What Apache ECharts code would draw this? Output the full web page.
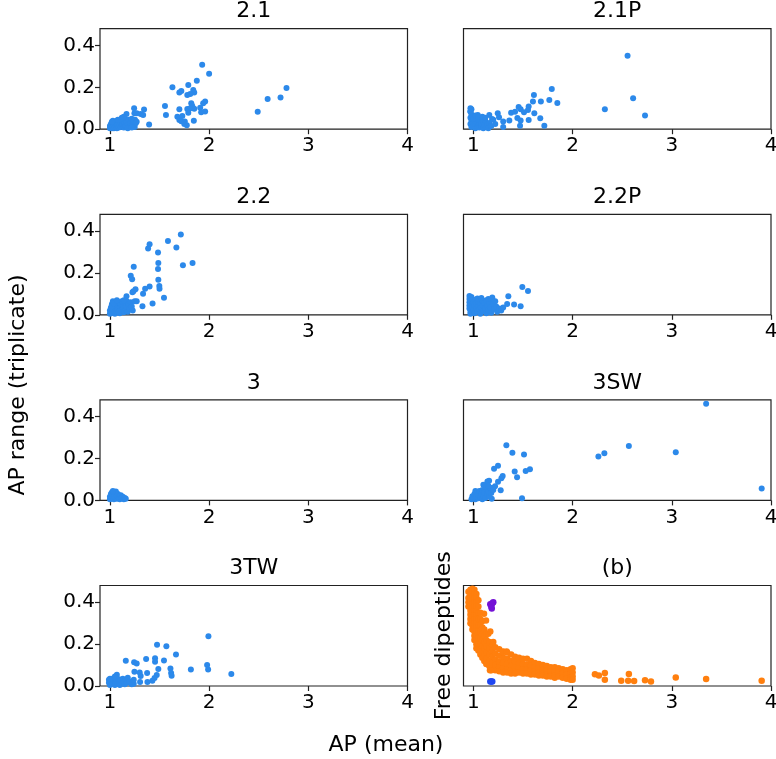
<!DOCTYPE html>
<html>
<head>
<meta charset="utf-8">
<script src="https://cdn.jsdelivr.net/npm/echarts@6/dist/echarts.min.js"></script>
<style>
html, body { margin: 0; padding: 0; background: #fff; }
#main { width: 776px; height: 759px; }
</style>
</head>
<body>
<div id="main"></div>
<script>
// panel titles, ticks
var panelNames = ['2.1', '2.1P', '2.2', '2.2P', '3', '3SW', '3TW', '(b)'];
var xTicks = [1, 2, 3, 4];
var yTicks = [0, 0.2, 0.4];

// [AP mean, AP range]
var p21 = [
  [1.93,0.308],[2.0,0.265],[1.63,0.2],[1.79,0.211],[1.876,0.232],[1.70,0.175],[1.72,0.183],[1.84,0.187],
  [1.85,0.175],[1.81,0.168],[1.78,0.163],[1.96,0.132],[1.94,0.124],[1.82,0.124],[1.83,0.111],[1.555,0.111],
  [1.70,0.095],[1.78,0.097],[1.81,0.1],[1.85,0.098],[1.91,0.103],[1.79,0.079],[1.92,0.081],[1.96,0.084],
  [1.565,0.068],[1.68,0.06],[1.73,0.063],[1.70,0.044],[1.72,0.038],[1.755,0.037],[1.75,0.025],[1.775,0.019],
  [1.846,0.04],[2.49,0.083],[2.59,0.144],[2.72,0.151],[2.78,0.197],[1.244,0.1],[1.344,0.094],[1.31,0.073],
  [1.247,0.076],[1.335,0.068],[1.395,0.022],[1.167,0.073],[1.27,0.076],[1.253,0.045],
  [1.00,0.005],[1.00,0.015],[1.01,0.01],[1.01,0.025],[1.02,0.005],[1.02,0.02],[1.03,0.012],[1.03,0.03],
  [1.04,0.005],[1.04,0.02],[1.05,0.01],[1.05,0.035],[1.06,0.018],[1.06,0.028],[1.07,0.005],[1.07,0.04],
  [1.08,0.015],[1.08,0.025],[1.09,0.008],[1.09,0.035],[1.10,0.02],[1.10,0.045],[1.11,0.01],[1.11,0.03],
  [1.12,0.055],[1.12,0.018],[1.13,0.025],[1.13,0.04],[1.14,0.008],[1.15,0.03],[1.15,0.05],[1.16,0.015],
  [1.17,0.035],[1.18,0.022],[1.19,0.045],[1.20,0.012],[1.21,0.03],[1.22,0.05],[1.23,0.02],[1.24,0.04],
  [1.25,0.01],[1.26,0.028],[1.27,0.035],[1.03,0.04],[1.02,0.035],[1.08,0.045],[1.14,0.06],[1.18,0.005],[1.22,0.008]
];
var p21P = [
  [2.554,0.351],[2.61,0.148],[2.325,0.095],[2.73,0.065],[1.79,0.192],[1.61,0.163],[1.765,0.14],[1.68,0.132],
  [1.60,0.132],[1.846,0.125],[1.456,0.106],[1.476,0.095],[1.557,0.108],[1.55,0.092],[1.51,0.081],[1.614,0.076],
  [1.38,0.078],[1.42,0.083],[1.674,0.052],[1.557,0.044],[1.476,0.041],[1.443,0.054],[1.362,0.041],[1.715,0.016],
  [1.47,0.017],[1.245,0.076],[1.258,0.057],[1.16,0.068],[1.188,0.049],[1.30,0.037],[1.30,0.01],[0.98,0.095],
  [0.97,0.084],[1.044,0.068],
  [0.97,0.10],[0.97,0.085],[0.98,0.07],[0.97,0.055],[0.98,0.04],[0.97,0.025],[0.98,0.01],[0.99,0.06],
  [1.0,0.03],[1.0,0.015],[1.01,0.045],[1.02,0.005],[1.02,0.025],[1.03,0.035],[1.04,0.012],[1.04,0.05],
  [1.05,0.02],[1.06,0.03],[1.06,0.008],[1.07,0.042],[1.08,0.015],[1.08,0.028],[1.09,0.05],[1.10,0.005],
  [1.10,0.035],[1.11,0.02],[1.12,0.04],[1.13,0.01],[1.13,0.03],[1.14,0.022],[1.15,0.005],[1.16,0.03],
  [1.18,0.015],[1.2,0.045],[1.22,0.025],[1.0,0.05],[1.02,0.065],[1.05,0.058],[1.09,0.06],[1.12,0.055]
];
var p22 = [
  [1.715,0.383],[1.585,0.352],[1.40,0.337],[1.385,0.317],[1.67,0.321],[1.485,0.298],[1.488,0.248],[1.833,0.248],
  [1.736,0.237],[1.24,0.229],[1.485,0.219],[1.21,0.187],[1.224,0.17],[1.488,0.167],[1.498,0.137],[1.50,0.124],
  [1.40,0.135],[1.355,0.125],[1.258,0.122],[1.237,0.113],[1.227,0.108],[1.334,0.1],[1.545,0.081],[1.27,0.065],
  [1.167,0.089],[1.43,0.054],[1.328,0.041],
  [1.0,0.005],[1.0,0.02],[1.01,0.035],[1.02,0.01],[1.02,0.05],[1.03,0.025],[1.03,0.065],[1.04,0.04],
  [1.05,0.005],[1.05,0.018],[1.06,0.03],[1.06,0.055],[1.07,0.012],[1.08,0.042],[1.08,0.025],[1.09,0.06],
  [1.10,0.008],[1.10,0.035],[1.11,0.05],[1.11,0.02],[1.12,0.065],[1.13,0.03],[1.13,0.045],[1.14,0.012],
  [1.15,0.055],[1.16,0.025],[1.16,0.04],[1.17,0.065],[1.18,0.015],[1.19,0.05],[1.2,0.03],[1.21,0.06],
  [1.22,0.04],[1.23,0.02],[1.25,0.065],[1.02,0.04],[1.04,0.055],[1.07,0.07],[1.14,0.07],[1.09,0.015]
];
var p22P = [
  [1.493,0.133],[1.55,0.114],[1.352,0.089],[1.34,0.051],[1.41,0.049],[1.476,0.041],[1.19,0.083],
  [0.96,0.09],[0.96,0.075],[0.96,0.06],[0.96,0.045],[0.96,0.03],[0.97,0.015],[0.97,0.005],[0.98,0.085],
  [0.98,0.068],[0.99,0.05],[0.99,0.035],[1.0,0.02],[1.0,0.06],[1.01,0.008],[1.01,0.045],[1.02,0.072],
  [1.03,0.03],[1.03,0.055],[1.04,0.015],[1.05,0.04],[1.05,0.065],[1.06,0.025],[1.07,0.005],[1.07,0.05],
  [1.08,0.035],[1.09,0.068],[1.1,0.018],[1.1,0.045],[1.11,0.058],[1.12,0.03],[1.13,0.008],[1.13,0.07],
  [1.14,0.045],[1.15,0.022],[1.16,0.06],[1.17,0.035],[1.18,0.01],[1.19,0.075],[1.2,0.05],[1.21,0.028],
  [1.22,0.065],[1.23,0.04],[1.24,0.015],[1.26,0.03],[1.28,0.02],[1.3,0.035],[1.04,0.078],[1.08,0.08],[1.15,0.075]
];
var p3 = [
  [1.0,0.005],[1.0,0.018],[1.01,0.03],[1.02,0.01],[1.02,0.038],[1.03,0.022],[1.04,0.04],[1.04,0.005],
  [1.05,0.028],[1.05,0.015],[1.06,0.035],[1.07,0.008],[1.07,0.022],[1.08,0.03],[1.09,0.012],[1.1,0.02],
  [1.1,0.005],[1.11,0.025],[1.12,0.01],[1.13,0.018],[1.14,0.005],[1.15,0.012],[1.16,0.008],[1.06,0.042],[1.03,0.045]
];
var p3SW = [
  [3.346,0.462],[2.567,0.26],[3.04,0.23],[2.32,0.225],[2.26,0.21],[3.906,0.057],[1.332,0.263],[1.393,0.227],
  [1.51,0.219],[1.248,0.165],[1.208,0.151],[1.57,0.149],[1.527,0.141],[1.416,0.138],[1.44,0.111],[1.295,0.116],
  [1.282,0.106],[1.248,0.089],[1.158,0.094],[1.141,0.09],[1.218,0.068],[1.275,0.048],[1.188,0.059],[1.49,0.01],
  [1.185,0.008],
  [0.98,0.005],[0.99,0.02],[1.0,0.01],[1.01,0.03],[1.02,0.045],[1.02,0.005],[1.03,0.018],[1.04,0.035],
  [1.05,0.01],[1.05,0.025],[1.06,0.045],[1.07,0.015],[1.08,0.03],[1.09,0.005],[1.09,0.05],[1.1,0.022],
  [1.11,0.038],[1.12,0.012],[1.13,0.055],[1.14,0.028],[1.15,0.042],[1.16,0.018],[1.17,0.06],[1.18,0.035],
  [1.2,0.05],[1.12,0.065],[1.15,0.07],[1.1,0.075]
];
var p3TW = [
  [1.993,0.238],[1.475,0.197],[1.569,0.19],[1.666,0.151],[1.16,0.121],[1.244,0.113],[1.27,0.108],[1.365,0.129],
  [1.455,0.132],[1.455,0.116],[1.545,0.122],[1.98,0.1],[1.99,0.079],[1.816,0.079],[2.224,0.057],[1.488,0.081],
  [1.61,0.084],[1.617,0.062],[1.622,0.049],[1.247,0.068],[1.3,0.065],[1.31,0.048],[1.375,0.062],[1.472,0.052],
  [1.45,0.038],[1.428,0.025],[1.378,0.019],[1.304,0.019],[1.24,0.011],[1.167,0.029],[1.07,0.054],
  [0.99,0.03],[0.99,0.015],[1.0,0.005],[1.01,0.025],[1.02,0.035],[1.02,0.01],[1.03,0.02],[1.04,0.03],
  [1.05,0.005],[1.06,0.015],[1.06,0.038],[1.07,0.025],[1.08,0.01],[1.09,0.032],[1.1,0.018],[1.1,0.005],
  [1.11,0.028],[1.12,0.012],[1.13,0.035],[1.14,0.02],[1.15,0.008],[1.16,0.03],[1.17,0.015],[1.18,0.04],
  [1.2,0.022],[1.22,0.008],[1.24,0.03],[1.05,0.045],[1.0,0.035]
];

// panel (b): free dipeptides
var bOrange = [
  [0.95,0.45],[0.95,0.42],[0.95,0.40],[0.95,0.38],
  [0.97,0.46],[0.97,0.44],[0.97,0.42],[0.97,0.40],[0.97,0.38],[0.97,0.36],[0.97,0.34],[0.97,0.32],[0.97,0.30],
  [0.99,0.465],[0.99,0.45],[0.99,0.43],[0.99,0.41],[0.99,0.39],[0.99,0.37],[0.99,0.35],[0.99,0.33],[0.99,0.31],[0.99,0.29],[0.99,0.27],
  [1.01,0.46],[1.01,0.44],[1.01,0.42],[1.01,0.40],[1.01,0.38],[1.01,0.36],[1.01,0.34],[1.01,0.32],[1.01,0.30],[1.01,0.28],[1.01,0.26],[1.01,0.24],[1.01,0.22],
  [1.03,0.44],[1.03,0.42],[1.03,0.40],[1.03,0.38],[1.03,0.36],[1.03,0.34],[1.03,0.32],[1.03,0.30],[1.03,0.28],[1.03,0.26],[1.03,0.24],[1.03,0.22],[1.03,0.20],[1.03,0.18],
  [1.05,0.41],[1.05,0.38],[1.05,0.35],[1.05,0.32],[1.05,0.29],[1.05,0.26],[1.05,0.23],[1.05,0.20],[1.05,0.17],
  [1.07,0.35],[1.07,0.32],[1.07,0.29],[1.07,0.26],[1.07,0.23],[1.07,0.20],[1.07,0.17],[1.07,0.15],
  [1.09,0.31],[1.09,0.28],[1.09,0.25],[1.09,0.22],[1.09,0.19],[1.09,0.16],[1.09,0.135],
  [1.11,0.27],[1.11,0.24],[1.11,0.21],[1.11,0.18],[1.11,0.15],[1.11,0.12],
  [1.13,0.25],[1.13,0.22],[1.13,0.19],[1.13,0.16],[1.13,0.13],[1.13,0.105],
  [1.16,0.21],[1.16,0.18],[1.16,0.15],[1.16,0.12],[1.16,0.095],
  [1.19,0.20],[1.19,0.17],[1.19,0.14],[1.19,0.11],[1.19,0.085],
  [1.22,0.185],[1.22,0.155],[1.22,0.125],[1.22,0.10],[1.22,0.075],
  [1.26,0.175],[1.26,0.145],[1.26,0.115],[1.26,0.09],[1.26,0.07],
  [1.30,0.165],[1.30,0.135],[1.30,0.11],[1.30,0.085],[1.30,0.065],
  [1.34,0.16],[1.34,0.13],[1.34,0.105],[1.34,0.08],[1.34,0.065],
  [1.38,0.15],[1.38,0.12],[1.38,0.095],[1.38,0.075],[1.38,0.06],
  [1.42,0.14],[1.42,0.115],[1.42,0.09],[1.42,0.07],[1.42,0.06],
  [1.46,0.135],[1.46,0.11],[1.46,0.085],[1.46,0.065],
  [1.50,0.13],[1.50,0.105],[1.50,0.08],[1.50,0.06],
  [1.54,0.13],[1.54,0.10],[1.54,0.08],[1.54,0.06],
  [1.58,0.12],[1.58,0.095],[1.58,0.075],[1.58,0.055],
  [1.62,0.11],[1.62,0.09],[1.62,0.07],[1.62,0.055],
  [1.66,0.105],[1.66,0.085],[1.66,0.065],[1.66,0.05],
  [1.70,0.10],[1.70,0.08],[1.70,0.06],[1.70,0.05],
  [1.74,0.095],[1.74,0.075],[1.74,0.055],[1.74,0.045],
  [1.78,0.09],[1.78,0.07],[1.78,0.05],[1.78,0.045],
  [1.82,0.09],[1.82,0.07],[1.82,0.05],[1.82,0.04],
  [1.86,0.085],[1.86,0.065],[1.86,0.045],
  [1.90,0.08],[1.90,0.06],[1.90,0.04],
  [1.94,0.075],[1.94,0.055],[1.94,0.035],
  [1.98,0.08],[1.98,0.06],[1.98,0.04],[1.98,0.03],
  [2.00,0.085],[2.00,0.065],[2.00,0.045],[2.00,0.03],
  [1.107,0.345],[1.127,0.313],[1.15,0.25],[1.17,0.26],[1.2,0.21],[1.167,0.075],[1.295,0.162],[1.335,0.165],[1.18,0.075],
  [2.225,0.056],[2.265,0.05],[2.325,0.062],[2.325,0.03],[2.49,0.025],[2.567,0.057],[2.56,0.025],[2.62,0.024],
  [2.73,0.027],[2.79,0.021],[3.04,0.041],[3.346,0.033],[3.906,0.025]
];
var bPurple = [[1.17,0.39],[1.19,0.395],[1.18,0.38],[1.185,0.37],[1.2,0.4]];
var bBlue = [[1.17,0.022],[1.19,0.022],[1.18,0.022]];

var panelData = [p21, p21P, p22, p22P, p3, p3SW, p3TW];

var colLeft = [100, 463.5];
var rowTop = [28.7, 214.3, 399.9, 585.5];
var boxW = 307.5, boxH = 100.5;
var blue = '#2c89ea';
var font = 'DejaVu Sans';

var myChart = echarts.init(document.getElementById('main'));

var grids = [], xAxes = [], yAxes = [], series = [], graphics = [];
for (var i = 0; i < 8; i++) {
  var col = i % 2, row = Math.floor(i / 2);
  grids.push({
    left: colLeft[col], top: rowTop[row], width: boxW, height: boxH,
    show: true, borderColor: '#222', borderWidth: 1.2, backgroundColor: 'transparent',
    containLabel: false, outerBoundsMode: 'none'
  });
  xAxes.push({
    type: 'value', gridIndex: i, min: 0.9, max: 4,
    axisLine: { show: false },
    splitLine: { show: false },
    axisTick: { show: true, customValues: xTicks, length: 5, lineStyle: { color: '#222', width: 1.2 } },
    axisLabel: { customValues: xTicks, fontSize: 20, fontFamily: font, color: '#000', margin: 7 }
  });
  var isLeft = col === 0;
  yAxes.push({
    type: 'value', gridIndex: i, min: 0, max: 0.48,
    axisLine: { show: false },
    splitLine: { show: false },
    axisTick: { show: isLeft, customValues: yTicks, length: 5, lineStyle: { color: '#222', width: 1.2 } },
    axisLabel: {
      show: isLeft, customValues: yTicks, fontSize: 20, fontFamily: font, color: '#000', margin: 5,
      formatter: function (v) { return v.toFixed(1); }
    },
    name: i === 7 ? 'Free dipeptides' : '',
    nameLocation: 'middle', nameRotate: 90, nameGap: 8,
    nameTextStyle: { fontSize: 22, fontFamily: font, color: '#000' }
  });
  graphics.push({
    type: 'text', x: colLeft[col] + boxW / 2, y: rowTop[row] - 17,
    style: { text: panelNames[i], font: '22px "DejaVu Sans"', fill: '#000', textAlign: 'center', textVerticalAlign: 'middle' }
  });
  if (i < 7) {
    series.push({
      type: 'scatter', xAxisIndex: i, yAxisIndex: i, data: panelData[i],
      symbolSize: 6, itemStyle: { color: blue, opacity: 1 }
    });
  }
}
series.push({ type: 'scatter', xAxisIndex: 7, yAxisIndex: 7, data: bOrange, symbolSize: 6.5, itemStyle: { color: '#ff7f0e', opacity: 1 } });
series.push({ type: 'scatter', xAxisIndex: 7, yAxisIndex: 7, data: bPurple, symbolSize: 6.5, itemStyle: { color: '#7412d6', opacity: 1 } });
series.push({ type: 'scatter', xAxisIndex: 7, yAxisIndex: 7, data: bBlue, symbolSize: 6.5, itemStyle: { color: '#1f47f2', opacity: 1 } });

// figure level axis labels
graphics.push({
  type: 'text', x: 386, y: 745,
  style: { text: 'AP (mean)', font: '22px "DejaVu Sans"', fill: '#000', textAlign: 'center', textVerticalAlign: 'middle' }
});
graphics.push({
  type: 'text', x: 18, y: 385, rotation: Math.PI / 2,
  style: { text: 'AP range (triplicate)', font: '22px "DejaVu Sans"', fill: '#000', textAlign: 'center', textVerticalAlign: 'middle' }
});

option = {
  animation: false,
  backgroundColor: '#fff',
  grid: grids,
  xAxis: xAxes,
  yAxis: yAxes,
  series: series,
  graphic: graphics
};

myChart.setOption(option, true);
window.addEventListener('resize', function () {
  myChart.resize();
});
</script>
</body>
</html>
